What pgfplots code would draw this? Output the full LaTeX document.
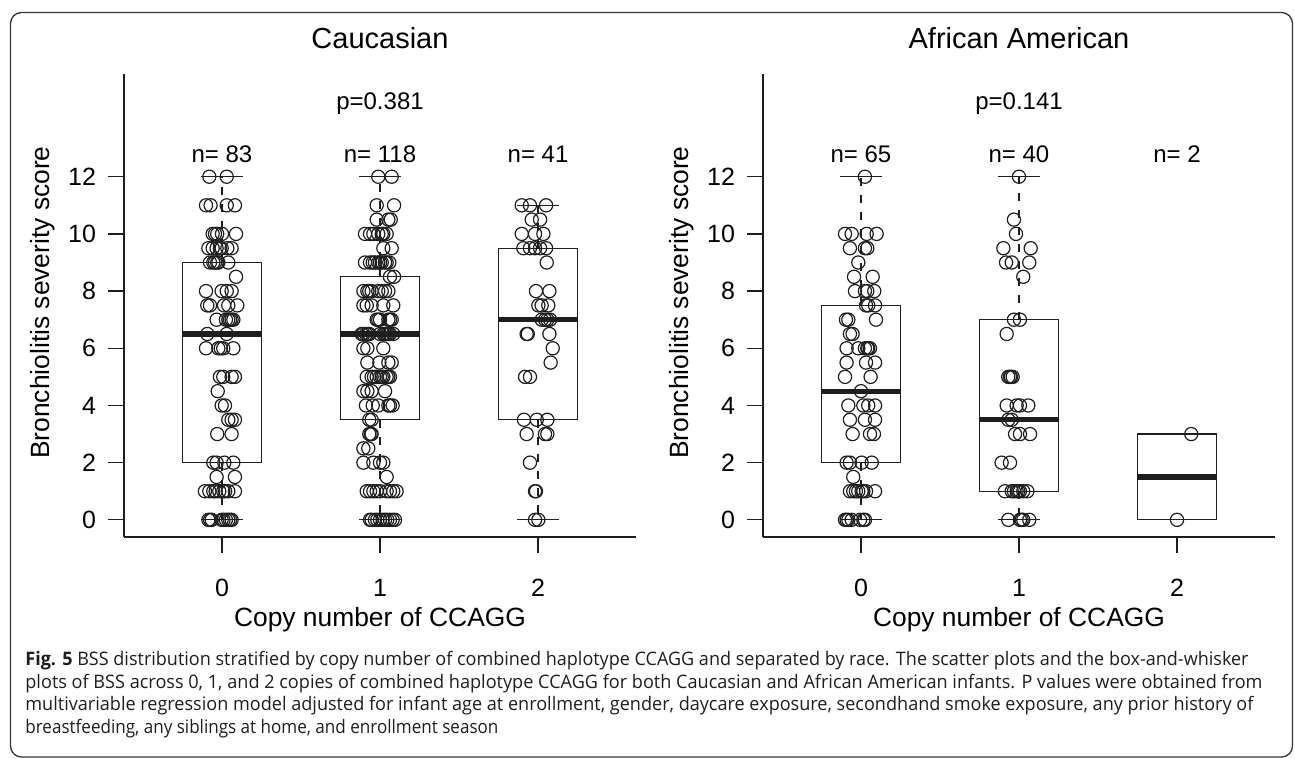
\documentclass[border=0pt]{standalone}
\usepackage{fontspec}
\setmainfont{Liberation Sans}
\newfontfamily\capfont{Open Sans}
\usepackage{graphicx}
\usepackage{pgfplots}
\pgfplotsset{compat=1.18}
\usepgfplotslibrary{statistics}

\definecolor{ink}{HTML}{1E1E1E}

% R-style box: dashed whisker, solid cap, thick median
\pgfplotsset{
  rbox/.style={
    ink, line width=0.65pt, solid,
    boxplot/draw direction=y,
    boxplot/box extend=0.5,
    boxplot/whisker extend=0.26,
    boxplot/every median/.style={line width=2.6pt},
    boxplot/draw/lower whisker/.code={%
      \draw[ink, line width=0.65pt, dash pattern=on 4pt off 4.5pt]
        (boxplot box cs:\pgfplotsboxplotvalue{lower quartile},0.5) --
        (boxplot box cs:\pgfplotsboxplotvalue{lower whisker},0.5);
      \draw[ink, line width=0.65pt]
        (boxplot whisker cs:\pgfplotsboxplotvalue{lower whisker},0) --
        (boxplot whisker cs:\pgfplotsboxplotvalue{lower whisker},1);
    },
    boxplot/draw/upper whisker/.code={%
      \draw[ink, line width=0.65pt, dash pattern=on 4pt off 4.5pt]
        (boxplot box cs:\pgfplotsboxplotvalue{upper quartile},0.5) --
        (boxplot box cs:\pgfplotsboxplotvalue{upper whisker},0.5);
      \draw[ink, line width=0.65pt]
        (boxplot whisker cs:\pgfplotsboxplotvalue{upper whisker},0) --
        (boxplot whisker cs:\pgfplotsboxplotvalue{upper whisker},1);
    },
  },
  pts/.style={only marks, mark=o, mark size=3.3pt,
    mark options={ink, line width=0.6pt}},
  bss/.style={
    scale only axis, width=256pt, height=231.6pt,
    xmin=-0.62, xmax=2.62, ymin=-0.6, ymax=15.6,
    axis lines=left,
    axis line style={-, ink, line width=0.65pt},
    xtick={0,1,2}, ytick={0,2,...,12},
    tick align=outside, major tick length=8pt,
    tick style={ink, line width=0.65pt},
    tick label style={font=\fontsize{12.5}{15}\selectfont},
    xticklabel style={yshift=-9.5pt},
    yticklabel style={xshift=-2.5pt},
    /pgf/number format/assume math mode=true,
    clip=false,
  },
}

\pgfplotstableread{
x y
-0.080 12
0.030 12
-0.101 11
-0.072 11
0.030 11
0.082 11
-0.059 10
-0.044 10
-0.030 10
0.000 10
0.089 10
-0.086 9.5
-0.059 9.5
-0.034 9.5
-0.013 9.5
-0.002 9.5
0.034 9.5
0.061 9.5
-0.076 9
-0.055 9
-0.044 9
-0.030 9
-0.023 9
0.040 9
0.089 8.5
-0.101 8
-0.002 8
0.030 8
0.061 8
-0.093 7.5
-0.076 7.5
0.013 7.5
0.040 7.5
0.097 7.5
-0.034 7
0.025 7
0.040 7
0.051 7
0.061 7
0.072 7
-0.093 6.5
0.030 6.5
-0.101 6
-0.023 6
-0.008 6
0.008 6
0.072 6
-0.013 5
0.008 5
0.061 5
0.082 5
-0.027 4.5
-0.002 4
0.019 4
0.040 3.5
0.061 3.5
0.082 3.5
-0.030 3
0.061 3
-0.055 2
-0.034 2
0.015 2
0.072 2
-0.034 1.5
0.082 1.5
-0.108 1
-0.080 1
-0.055 1
-0.040 1
-0.017 1
0.008 1
0.020 1
0.040 1
0.082 1
-0.086 0
-0.075 0
-0.065 0
-0.002 0
0.010 0
0.025 0
0.040 0
0.051 0
0.061 0
}\cauA

\pgfplotstableread{
x y
0.989 12
1.074 12
0.979 11
1.089 11
0.979 10.5
1.053 10.5
1.068 10.5
0.905 10
0.937 10
0.958 10
0.989 10
1.011 10
1.021 10
1.042 10
1.021 9.5
1.074 9.5
0.905 9
0.937 9
0.954 9
0.968 9
0.989 9
1.000 9
1.011 9
1.032 9
1.042 9
1.059 9
1.063 8.5
1.089 8.5
0.895 8
0.920 8
0.932 8
0.947 8
0.989 8
1.011 8
1.032 8
1.053 8
0.895 7.5
0.916 7.5
0.947 7.5
1.021 7.5
1.084 7.5
0.979 7
0.989 7
1.000 7
1.053 7
1.063 7
1.074 7
0.884 6.5
0.895 6.5
0.911 6.5
0.922 6.5
0.932 6.5
1.000 6.5
1.021 6.5
1.032 6.5
1.042 6.5
1.053 6.5
1.063 6.5
1.084 6.5
0.895 6
0.920 6
1.021 6
0.920 5.5
0.996 5.5
1.053 5.5
1.074 5.5
0.916 5
0.947 5
0.962 5
0.979 5
1.000 5
1.011 5
1.021 5
1.042 5
1.053 5
1.063 5
0.895 4.5
0.920 4.5
0.947 4.5
1.032 4.5
0.911 4
0.954 4
0.989 4
1.053 4
1.063 4
1.080 4
0.932 3.5
0.947 3.5
0.932 3
0.941 3
0.947 3
0.895 2.5
0.926 2.5
0.895 2
0.958 2
1.000 2
1.021 2
1.042 1.5
0.916 1
0.937 1
0.958 1
0.979 1
1.000 1
1.042 1
1.063 1
1.084 1
1.105 1
0.937 0
0.947 0
0.968 0
0.983 0
1.000 0
1.017 0
1.032 0
1.046 0
1.063 0
1.080 0
1.095 0
}\cauB

\pgfplotstableread{
x y
1.897 11
1.949 11
2.051 11
1.960 10.5
2.013 10.5
1.897 10
1.981 10
2.034 10
1.907 9.5
1.949 9.5
1.981 9.5
2.013 9.5
2.051 9.5
2.055 9
1.987 8
2.072 8
2.002 7.5
2.023 7.5
2.065 7.5
2.023 7
2.044 7
2.059 7
2.076 7
1.928 6.5
1.935 6.5
2.072 6.5
2.093 6
2.080 5.5
1.918 5
1.949 5
1.911 3.5
1.992 3.5
2.059 3.5
1.928 3
2.044 3
2.059 3
1.949 2
1.981 1
1.987 1
1.981 0
2.002 0
}\cauC

\pgfplotstableread{
x y
0.025 12
-0.101 10
-0.059 10
0.036 10
0.099 10
-0.070 9.5
0.025 9.5
0.040 9.5
-0.017 9
-0.044 8.5
0.074 8.5
-0.038 8
0.025 8
0.040 8
0.084 8
0.032 7.5
0.046 7.5
0.089 7.5
-0.095 7
-0.080 7
0.095 7
-0.070 6.5
-0.053 6.5
-0.091 6
-0.017 6
0.025 6
0.040 6
0.046 6
0.057 6
-0.091 5.5
0.032 5.5
0.089 5.5
-0.101 5
0.061 5
0.000 4.5
-0.080 4
0.015 4
0.046 4
0.089 4
-0.070 3.5
0.025 3.5
0.089 3.5
-0.053 3
0.057 3
0.082 3
-0.091 2
-0.070 2
0.004 2
0.068 2
-0.049 1.5
-0.070 1
-0.049 1
-0.032 1
-0.017 1
0.004 1
0.015 1
0.032 1
0.089 1
-0.101 0
-0.091 0
-0.080 0
-0.059 0
-0.006 0
0.015 0
0.025 0
}\afrA

\pgfplotstableread{
x y
1.000 12
0.968 10.5
0.981 10
0.901 9.5
1.074 9.5
0.918 9
0.954 9
1.065 9
1.027 8.5
0.968 7
1.006 7
0.922 6.5
0.932 5
0.943 5
0.949 5
0.960 5
0.922 4
0.985 4
1.006 4
1.059 4
0.932 3.5
0.954 3.5
0.975 3
1.006 3
1.070 3
0.890 2
0.943 2
0.911 1
0.954 1
0.968 1
0.985 1
0.996 1
1.006 1
1.027 1
1.053 1
0.932 0
1.006 0
1.017 0
1.027 0
1.065 0
}\afrB

\pgfplotstableread{
x y
2.090 3
2.000 0
}\afrC

\begin{document}
\begin{tikzpicture}
\useasboundingbox (0,0) rectangle (647.5pt,379.5pt);
\draw[ink!90, line width=0.65pt, rounded corners=5.5pt] (5.25pt,1pt) rectangle (646.25pt,373.25pt);

% ---- Caucasian
\begin{axis}[bss, at={(62pt,111pt)}, anchor=south west]
\addplot[rbox, boxplot prepared={draw position=0, median=6.5, lower quartile=2, upper quartile=9, lower whisker=0, upper whisker=12}] coordinates {};
\addplot[rbox, boxplot prepared={draw position=1, median=6.5, lower quartile=3.5, upper quartile=8.5, lower whisker=0, upper whisker=12}] coordinates {};
\addplot[rbox, boxplot prepared={draw position=2, median=7, lower quartile=3.5, upper quartile=9.5, lower whisker=0, upper whisker=11}] coordinates {};
\addplot[pts] table[x=x, y=y] {\cauA};
\addplot[pts] table[x=x, y=y] {\cauB};
\addplot[pts] table[x=x, y=y] {\cauC};
\node[font=\fontsize{14.5}{17}\selectfont, anchor=base] at (1,16.47) {Caucasian};
\node[font=\fontsize{12}{14}\selectfont, anchor=base] at (1,14.34) {p=0.381};
\node[font=\fontsize{12}{14}\selectfont, anchor=base] at (0,12.48) {n= 83};
\node[font=\fontsize{12}{14}\selectfont, anchor=base] at (1,12.48) {n= 118};
\node[font=\fontsize{12}{14}\selectfont, anchor=base] at (2,12.48) {n= 41};
\node[font=\fontsize{13.2}{16}\selectfont, anchor=base] at (1,-3.74) {Copy number of CCAGG};
\node[font=\fontsize{13.2}{16}\selectfont, anchor=base, rotate=90] at (-1.089,7.6) {Bronchiolitis severity score};
\end{axis}

% ---- African American
\begin{axis}[bss, at={(381.5pt,111pt)}, anchor=south west]
\addplot[rbox, boxplot prepared={draw position=0, median=4.5, lower quartile=2, upper quartile=7.5, lower whisker=0, upper whisker=12}] coordinates {};
\addplot[rbox, boxplot prepared={draw position=1, median=3.5, lower quartile=1, upper quartile=7, lower whisker=0, upper whisker=12}] coordinates {};
\addplot[rbox, boxplot prepared={draw position=2, median=1.5, lower quartile=0, upper quartile=3, lower whisker=0, upper whisker=3}] coordinates {};
\addplot[pts] table[x=x, y=y] {\afrA};
\addplot[pts] table[x=x, y=y] {\afrB};
\addplot[pts] table[x=x, y=y] {\afrC};
\node[font=\fontsize{14.5}{17}\selectfont, anchor=base] at (1,16.47) {African American};
\node[font=\fontsize{12}{14}\selectfont, anchor=base] at (1,14.34) {p=0.141};
\node[font=\fontsize{12}{14}\selectfont, anchor=base] at (0,12.48) {n= 65};
\node[font=\fontsize{12}{14}\selectfont, anchor=base] at (1,12.48) {n= 40};
\node[font=\fontsize{12}{14}\selectfont, anchor=base] at (2,12.48) {n= 2};
\node[font=\fontsize{13.2}{16}\selectfont, anchor=base] at (1,-3.74) {Copy number of CCAGG};
\node[font=\fontsize{13.2}{16}\selectfont, anchor=base, rotate=90] at (-1.089,7.6) {Bronchiolitis severity score};
\end{axis}

% ---- caption (each line fitted to the width it has in the figure)
\begin{scope}[every node/.style={anchor=base west, inner sep=0pt, text=ink,
    font=\capfont\fontsize{9.3}{11.2}\selectfont}]
\node at (12.5pt,46.5pt) {\resizebox{611.5pt}{\height}{\textbf{Fig. 5} BSS distribution stratified by copy number of combined haplotype CCAGG and separated by race. The scatter plots and the box-and-whisker}};
\node at (12.5pt,35.25pt) {\resizebox{618.5pt}{\height}{plots of BSS across 0, 1, and 2 copies of combined haplotype CCAGG for both Caucasian and African American infants. P values were obtained from}};
\node at (12.5pt,24pt) {\resizebox{614pt}{\height}{multivariable regression model adjusted for infant age at enrollment, gender, daycare exposure, secondhand smoke exposure, any prior history of}};
\node at (12.5pt,12.75pt) {\resizebox{236.5pt}{\height}{breastfeeding, any siblings at home, and enrollment season}};
\end{scope}
\end{tikzpicture}
\end{document}
